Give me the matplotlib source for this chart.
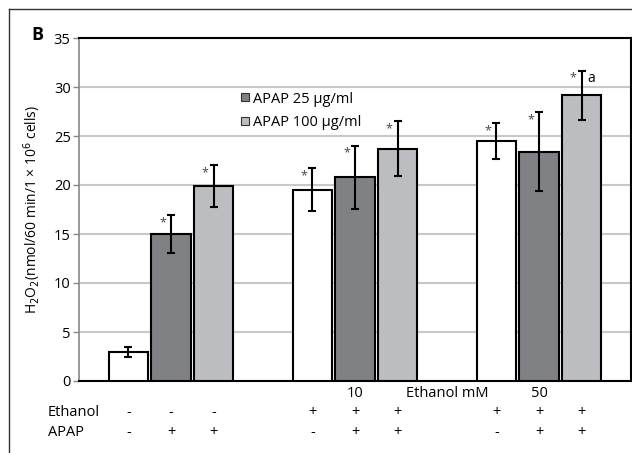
import matplotlib
matplotlib.use("Agg")
from matplotlib import pyplot as plt
from matplotlib.lines import Line2D
import numpy as np

plt.rcParams['font.family'] = ['Open Sans', 'DejaVu Sans']

# data
groups = ["control", "10", "50"]
white_vals = [3.0, 19.5, 24.5]
white_err = [0.5, 2.2, 1.8]
dark_vals = [15.0, 20.8, 23.4]
dark_err = [1.9, 3.2, 4.0]
light_vals = [19.9, 23.7, 29.15]
light_err = [2.1, 2.8, 2.5]
white_star = [False, True, True]
dark_star = [True, True, True]
light_star = [True, True, True]

ethanol_row = ["-", "-", "-", "+", "+", "+", "+", "+", "+"]
apap_row = ["-", "+", "+", "-", "+", "+", "-", "+", "+"]

fig = plt.figure(figsize=(6.32, 4.53), dpi=100)
ax = fig.add_axes([79 / 632, 72 / 453, 552 / 632, 343 / 453])

x = np.arange(len(groups))
step = 0.231
w = 0.212
series = [
    (white_vals, white_err, "white", white_star, None),
    (dark_vals, dark_err, "#808185", dark_star, "APAP 25 µg/ml"),
    (light_vals, light_err, "#bcbdc1", light_star, "APAP 100 µg/ml"),
]
for i, (vals, errs, col, stars, lab) in enumerate(series):
    xs = x + (i - 1) * step
    ax.bar(xs, vals, w, color=col, edgecolor="black", linewidth=1.5, zorder=3)
    ax.errorbar(xs, vals, yerr=errs, fmt="none", ecolor="black", elinewidth=1.5,
                capsize=3, capthick=1.5, zorder=4)
    for xx, v, e, s in zip(xs, vals, errs, stars):
        if s:
            ax.text(xx - 0.045, v + e - 0.75, "*", ha="center", va="center",
                    fontsize=9, color="#444444", zorder=5)

# "a" next to the last error bar
ax.text(x[2] + step + 0.032, light_vals[2] + light_err[2] - 0.75, "a",
        ha="left", va="center", fontsize=10)

ax.set_xlim(-0.5, 2.5)
ax.set_ylim(0, 35)
ax.set_yticks(np.arange(0, 36, 5))
ax.set_xticks([])
ax.yaxis.grid(True, color="#c8c8c8", linewidth=1.5, zorder=0)
ax.set_axisbelow(True)
ax.tick_params(axis="y", labelsize=10.5, color="#888888", length=4, width=1, pad=2)
ax.spines["left"].set_color("#888888")
ax.spines["left"].set_linewidth(1.2)
for sp in ["top", "right", "bottom"]:
    ax.spines[sp].set_color("black")
    ax.spines[sp].set_linewidth(1.5)

ax.set_ylabel("H$_2$O$_2$(nmol/60 min/1 × 10$^6$ cells)", fontsize=10, labelpad=8)

# legend
handles = [Line2D([], [], marker="s", linestyle="none", markersize=6,
                  markerfacecolor=c, markeredgecolor="#333333", markeredgewidth=0.8)
           for c in ["#808185", "#bcbdc1"]]
ax.legend(handles, [series[1][4], series[2][4]], loc="upper left",
          bbox_to_anchor=(0.267, 0.882), frameon=False, fontsize=10.5,
          handletextpad=0.1, handlelength=0.8, labelspacing=0.55)

# labels under the axis
trans = ax.get_xaxis_transform()
ax.text(x[1], -0.035, "10", transform=trans, ha="center", va="center", fontsize=10.5)
ax.text(1.5, -0.035, "Ethanol mM", transform=trans, ha="center", va="center", fontsize=10.5)
ax.text(x[2], -0.035, "50", transform=trans, ha="center", va="center", fontsize=10.5)
pos = np.array([x[g] + (i - 1) * step for g in range(3) for i in range(3)])
for p, e, a in zip(pos, ethanol_row, apap_row):
    ax.text(p, -0.093, e, transform=trans, ha="center", va="center", fontsize=10.5)
    ax.text(p, -0.149, a, transform=trans, ha="center", va="center", fontsize=10.5)
fig.text(48 / 632, 1 - 413 / 453, "Ethanol", ha="left", va="center", fontsize=10.5)
fig.text(48 / 632, 1 - 432 / 453, "APAP", ha="left", va="center", fontsize=10.5)

# panel letter and frame
fig.text(37 / 632, 1 - 35 / 453, "B", ha="center", va="center", fontsize=13, fontweight="bold")
fig.add_artist(Line2D([9 / 632, 9 / 632], [0, 1 - 9 / 453], color="#333333", linewidth=1))
fig.add_artist(Line2D([9 / 632, 1], [1 - 9 / 453, 1 - 9 / 453], color="#333333", linewidth=1))

fig.savefig("out.png", dpi=100)
